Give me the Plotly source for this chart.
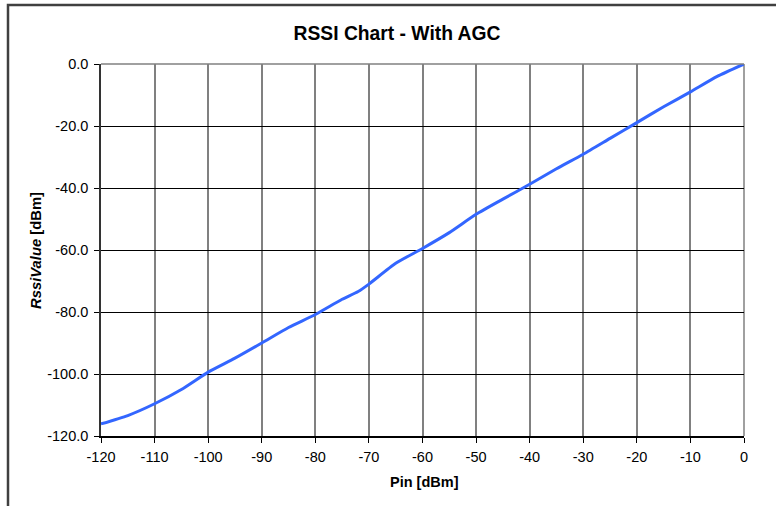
import plotly.graph_objects as go

# Data
pin_dbm = [-120, -115, -110, -105, -100, -95, -90, -85, -80, -75, -72, -70, -65,
           -60, -55, -50, -45, -40, -35, -30, -25, -20, -15, -10, -5, 0]
rssi_dbm = [-116.1, -113.4, -109.6, -105.0, -99.4, -94.9, -90.0, -85.0, -80.8, -75.9,
            -73.4, -71.0, -64.3, -59.5, -54.4, -48.5, -43.6, -38.8, -33.8, -29.1,
            -24.0, -18.9, -13.8, -9.0, -4.0, 0.0]
x_ticks = list(range(-120, 1, 10))
y_ticks = list(range(-120, 1, 20))
y_tick_text = ["%.1f" % v for v in y_ticks]

FONT = "Liberation Sans, Arial, sans-serif"

fig = go.Figure()
fig.add_trace(go.Scatter(
    x=pin_dbm, y=rssi_dbm, mode="lines",
    line=dict(color="#3366FF", width=3, shape="spline", smoothing=0.6),
    showlegend=False, hoverinfo="x+y"))

W, H = 776, 506
fig.update_layout(
    width=W, height=H,
    margin=dict(l=101, r=32, t=64, b=70),
    paper_bgcolor="white", plot_bgcolor="white",
    font=dict(family=FONT, size=14, color="black"),
    title=dict(text="<b>RSSI Chart - With AGC</b>", x=(397 - 101) / 643, xref="paper",
               xanchor="center", y=1 - 33 / H, yref="container", yanchor="middle",
               font=dict(family=FONT, size=19.3, color="black")),
    xaxis=dict(range=[-120, 0], tickvals=x_ticks, ticktext=[str(v) for v in x_ticks],
               showgrid=True, gridcolor="#808080", gridwidth=1.5,
               showline=True, linecolor="black", linewidth=1.5,
               ticks="outside", ticklen=5, tickcolor="black", tickwidth=1,
               zeroline=False, tickfont=dict(size=14.5), ticklabelstandoff=2),
    yaxis=dict(range=[-120, 0], tickvals=y_ticks, ticktext=y_tick_text,
               showgrid=True, gridcolor="black", gridwidth=1,
               showline=True, linecolor="#333333", linewidth=1.5,
               ticks="outside", ticklen=5, tickcolor="black", tickwidth=1,
               zeroline=False, tickfont=dict(size=14.5), ticklabelstandoff=3),
)

# Gray plot-area border on top and right
fig.add_shape(type="line", xref="paper", yref="paper", x0=0, x1=1, y0=1, y1=1,
              line=dict(color="#808080", width=1.5), layer="above")
fig.add_shape(type="line", xref="paper", yref="paper", x0=1, x1=1, y0=0, y1=1,
              line=dict(color="#808080", width=1.5), layer="below")

# Outer chart border (clipped at right and bottom like the reference)
fig.add_shape(type="rect", xref="paper", yref="paper",
              x0=(8 - 101) / 643, x1=1.3, y0=-0.5, y1=(436 - 5) / 372,
              line=dict(color="#404040", width=2.5), fillcolor="rgba(0,0,0,0)", layer="below")

# Axis titles
fig.add_annotation(text="<b>Pin [dBm]</b>", xref="paper", yref="paper",
                   x=(424 - 101) / 643, y=(436 - 482) / 372, xanchor="center", yanchor="middle",
                   showarrow=False, font=dict(family=FONT, size=14.5, color="black"))
fig.add_annotation(text="<b><i>RssiValue</i> [dBm]</b>", xref="paper", yref="paper",
                   x=(36 - 101) / 643, y=(436 - 251) / 372, xanchor="center", yanchor="middle",
                   textangle=-90, showarrow=False, font=dict(family=FONT, size=14.8, color="black"))

fig.write_html("out.html", config={"displayModeBar": False},
               post_script="document.body.style.margin='0';")
